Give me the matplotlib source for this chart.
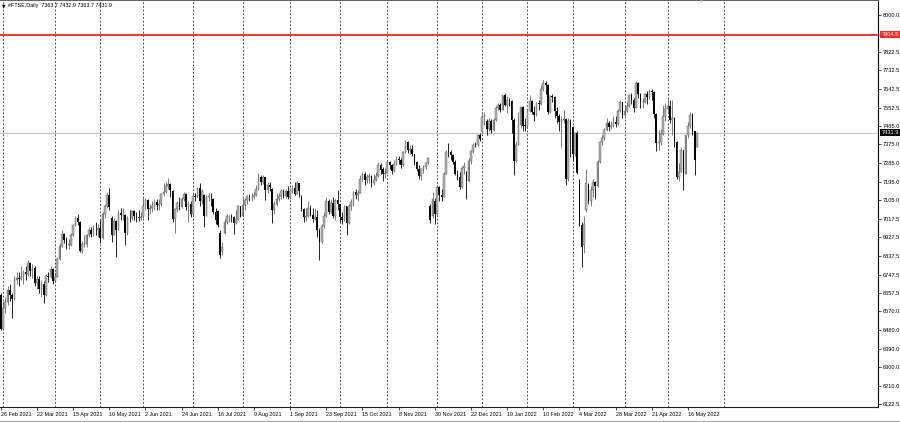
import numpy as np
import matplotlib.pyplot as plt
from matplotlib.lines import Line2D

plt.rcParams['font.family'] = ['Liberation Sans', 'DejaVu Sans']

# --- FTSE daily candles, 26 Feb 2021 .. 20 May 2022 (one row per month) ---
opens = [
    6651,
    6483, 6588, 6614, 6675, 6651, 6631, 6719, 6730, 6725, 6737, 6761, 6750, 6804, 6763, 6779, 6709, 6726, 6680, 6700, 6650, 6741, 6737, 6772,
    6714, 6737, 6823, 6885, 6942, 6916, 6890, 6890, 6940, 6984, 7020, 7000, 6860, 6896, 6896, 6938, 6963, 6945, 6964, 6961,
    6970, 6923, 7039, 7077, 7130, 7020, 6940, 7005, 6963, 7044, 7033, 7035, 6950, 7020, 7018, 7052, 7030, 7027, 7020,
    7023, 7080, 7108, 7064, 7069, 7077, 7095, 7081, 7088, 7134, 7147, 7172, 7185, 7150, 7017, 7062, 7090, 7074, 7110, 7136, 7072, 7088,
    7037, 7125, 7123, 7165, 7101, 7130, 7031, 7122, 7125, 7110, 7050, 7055, 6950, 6860, 6950, 6999, 7028, 7028, 7026, 6996, 7017, 7078,
    7032, 7081, 7106, 7124, 7120, 7123, 7133, 7161, 7220, 7193, 7219, 7154, 7181, 7160, 7059, 7088, 7110, 7126, 7150, 7125, 7148,
    7120, 7150, 7164, 7138, 7187, 7125, 7065, 7024, 7029, 7068, 7034, 7016, 7027, 6964, 6903, 6981, 7030, 7100, 7051, 7090, 7028, 7108,
    7086, 7027, 7011, 7077, 6996, 7078, 7096, 7147, 7130, 7142, 7208, 7234, 7204, 7218, 7224, 7190, 7205, 7223, 7278, 7255, 7230,
    7238, 7288, 7275, 7249, 7280, 7304, 7300, 7275, 7340, 7385, 7348, 7352, 7327, 7292, 7256, 7224, 7256, 7267, 7287, 7080, 7030, 7100,
    7040, 7168, 7129, 7122, 7233, 7340, 7338, 7322, 7292, 7231, 7219, 7171, 7261, 7240, 7198, 7297, 7341, 7373, 7372, 7421,
    7434, 7505, 7490, 7450, 7486, 7445, 7492, 7552, 7563, 7543, 7612, 7564, 7590, 7585, 7494, 7297, 7372, 7470, 7555, 7466,
    7464, 7535, 7584, 7529, 7516, 7573, 7568, 7644, 7672, 7661, 7531, 7609, 7604, 7537, 7514, 7485, 7494, 7499, 7207, 7490,
    7459, 7330, 7429, 7203, 6987, 6890, 7060, 7180, 7100, 7156, 7194, 7176, 7292, 7386, 7405, 7443, 7477, 7461, 7468, 7483, 7474, 7538, 7579,
    7516, 7538, 7559, 7614, 7588, 7552, 7670, 7619, 7577, 7581, 7616, 7601, 7630, 7628, 7522, 7381, 7386, 7426, 7510,
    7545, 7562, 7494, 7503, 7388, 7216, 7244, 7348, 7233, 7418, 7465, 7519, 7438, 7363.7,
]
highs = [
    6660,
    6620, 6640, 6690, 6700, 6660, 6740, 6760, 6760, 6790, 6770, 6790, 6820, 6810, 6800, 6790, 6740, 6740, 6720, 6715, 6750, 6760, 6790, 6780,
    6760, 6830, 6900, 6960, 6950, 6930, 6920, 6950, 6990, 7030, 7040, 7005, 6910, 6940, 6945, 6975, 6975, 6985, 7000, 6990,
    7010, 7050, 7090, 7145, 7165, 7030, 7020, 7010, 7060, 7070, 7068, 7040, 7030, 7060, 7060, 7060, 7050, 7060, 7050,
    7115, 7115, 7110, 7090, 7100, 7110, 7110, 7110, 7140, 7190, 7195, 7212, 7190, 7155, 7070, 7100, 7120, 7120, 7145, 7140, 7100, 7100,
    7145, 7140, 7170, 7190, 7160, 7135, 7130, 7140, 7140, 7115, 7070, 7060, 6960, 6905, 7015, 7040, 7035, 7040, 7030, 7060, 7085, 7080,
    7116, 7115, 7130, 7135, 7140, 7150, 7180, 7236, 7225, 7225, 7220, 7195, 7193, 7165, 7100, 7140, 7140, 7160, 7160, 7160, 7175,
    7165, 7180, 7195, 7200, 7190, 7130, 7070, 7068, 7100, 7085, 7068, 7068, 7058, 6970, 6990, 7050, 7121, 7110, 7111, 7121, 7110, 7155,
    7090, 7050, 7085, 7080, 7090, 7110, 7150, 7160, 7155, 7226, 7242, 7240, 7230, 7235, 7226, 7230, 7240, 7290, 7285, 7265, 7260,
    7300, 7295, 7280, 7300, 7320, 7320, 7310, 7345, 7395, 7390, 7370, 7370, 7330, 7295, 7276, 7262, 7278, 7292, 7315, 7090, 7145, 7115,
    7180, 7175, 7160, 7240, 7350, 7382, 7350, 7330, 7300, 7250, 7240, 7270, 7290, 7245, 7310, 7350, 7380, 7385, 7425, 7430,
    7526, 7530, 7495, 7500, 7495, 7500, 7560, 7575, 7575, 7615, 7625, 7610, 7600, 7590, 7500, 7390, 7530, 7560, 7560, 7500,
    7540, 7612, 7590, 7560, 7580, 7590, 7660, 7687, 7680, 7665, 7615, 7620, 7610, 7555, 7520, 7510, 7540, 7500, 7500, 7495,
    7465, 7435, 7440, 7210, 7000, 7030, 7255, 7190, 7175, 7210, 7200, 7300, 7390, 7420, 7455, 7500, 7490, 7490, 7510, 7510, 7545, 7590, 7580,
    7560, 7580, 7620, 7625, 7600, 7680, 7675, 7625, 7600, 7625, 7630, 7640, 7640, 7630, 7525, 7444, 7450, 7565, 7575,
    7600, 7590, 7590, 7505, 7390, 7285, 7360, 7350, 7420, 7483, 7530, 7525, 7440, 7432.9,
]
lows = [
    6480,
    6480, 6560, 6600, 6620, 6540, 6625, 6700, 6690, 6720, 6700, 6720, 6740, 6740, 6730, 6690, 6680, 6660, 6640, 6610, 6645, 6710, 6730, 6700,
    6710, 6735, 6820, 6880, 6900, 6870, 6870, 6885, 6935, 6980, 6985, 6855, 6850, 6880, 6880, 6930, 6930, 6935, 6940, 6930,
    6900, 6920, 7020, 7070, 7060, 6905, 6940, 6830, 6960, 7010, 7010, 6890, 6940, 7000, 7010, 7010, 7000, 7005, 7010,
    7020, 7060, 7010, 7040, 7050, 7060, 7060, 7060, 7080, 7125, 7140, 7160, 7120, 7000, 6948, 7050, 7060, 7070, 7100, 7060, 7000, 7025,
    7035, 7100, 7120, 7080, 7090, 6975, 7030, 7100, 7080, 7040, 6990, 6975, 6827, 6840, 6945, 6990, 7000, 7000, 6945, 6990, 7010, 7025,
    7030, 7060, 7090, 7100, 7100, 7110, 7125, 7155, 7180, 7185, 7106, 7140, 7150, 6995, 7040, 7080, 7100, 7110, 7115, 7115, 7110,
    7110, 7140, 7130, 7135, 7120, 7055, 7000, 7005, 7025, 7030, 7000, 7010, 6930, 6820, 6900, 6970, 7025, 7040, 7045, 7020, 7010, 7060,
    7000, 6990, 7005, 6940, 6990, 7060, 7080, 7110, 7100, 7140, 7200, 7180, 7190, 7190, 7170, 7180, 7200, 7220, 7230, 7200, 7215,
    7235, 7255, 7230, 7240, 7275, 7280, 7260, 7270, 7335, 7335, 7330, 7320, 7276, 7245, 7210, 7204, 7236, 7255, 7280, 6995, 7020, 6990,
    7035, 7100, 7100, 7120, 7230, 7315, 7300, 7280, 7225, 7205, 7160, 7165, 7230, 7110, 7195, 7280, 7335, 7360, 7365, 7390,
    7430, 7470, 7420, 7440, 7430, 7440, 7490, 7540, 7530, 7540, 7560, 7526, 7560, 7430, 7227, 7290, 7370, 7460, 7440, 7440,
    7460, 7530, 7520, 7490, 7510, 7540, 7565, 7630, 7620, 7520, 7526, 7580, 7500, 7480, 7440, 7362, 7480, 7179, 7200, 7315,
    7300, 7320, 7230, 6980, 6784, 6850, 7050, 7090, 7080, 7120, 7110, 7170, 7285, 7370, 7396, 7440, 7440, 7450, 7460, 7460, 7470, 7530, 7500,
    7500, 7530, 7555, 7570, 7530, 7550, 7600, 7550, 7550, 7575, 7570, 7595, 7590, 7500, 7345, 7350, 7370, 7420, 7490,
    7530, 7480, 7420, 7360, 7210, 7200, 7240, 7155, 7230, 7405, 7455, 7420, 7227, 7363.7,
]
closes = [
    6483,
    6588, 6614, 6675, 6651, 6631, 6719, 6730, 6725, 6737, 6761, 6750, 6804, 6763, 6779, 6709, 6726, 6680, 6700, 6650, 6741, 6737, 6772, 6714,
    6737, 6823, 6885, 6942, 6916, 6890, 6890, 6940, 6984, 7020, 7000, 6860, 6896, 6896, 6938, 6963, 6945, 6964, 6961, 6970,
    6923, 7039, 7077, 7130, 7075, 6940, 7005, 6963, 7044, 7033, 7035, 6950, 7020, 7018, 7052, 7030, 7027, 7020, 7023,
    7080, 7108, 7064, 7069, 7077, 7095, 7081, 7088, 7134, 7147, 7172, 7185, 7153, 7017, 7062, 7090, 7074, 7110, 7136, 7072, 7088, 7037,
    7125, 7123, 7165, 7101, 7151, 7031, 7122, 7125, 7124, 7050, 7012, 6985, 6844, 6882, 6999, 7028, 7028, 7026, 6996, 7017, 7078, 7032,
    7081, 7106, 7124, 7120, 7123, 7133, 7161, 7220, 7193, 7219, 7154, 7181, 7170, 7059, 7088, 7110, 7126, 7150, 7125, 7148, 7120,
    7150, 7164, 7138, 7187, 7149, 7065, 7024, 7029, 7068, 7034, 7016, 7027, 6964, 6903, 6981, 7030, 7100, 7051, 7090, 7028, 7108, 7086,
    7027, 7011, 7077, 6996, 7078, 7096, 7147, 7130, 7142, 7208, 7234, 7204, 7218, 7224, 7190, 7205, 7223, 7278, 7253, 7230, 7238,
    7288, 7275, 7249, 7280, 7304, 7300, 7275, 7340, 7385, 7348, 7352, 7327, 7292, 7256, 7224, 7256, 7267, 7287, 7311, 7010, 7110, 7040,
    7168, 7129, 7122, 7233, 7340, 7338, 7322, 7292, 7231, 7219, 7171, 7261, 7270, 7198, 7297, 7341, 7373, 7372, 7421, 7403,
    7505, 7517, 7450, 7486, 7445, 7492, 7552, 7563, 7543, 7612, 7564, 7590, 7585, 7494, 7297, 7372, 7470, 7555, 7466, 7464,
    7535, 7584, 7529, 7516, 7573, 7568, 7644, 7672, 7661, 7531, 7609, 7604, 7537, 7514, 7485, 7494, 7499, 7207, 7490, 7459,
    7330, 7429, 7239, 6987, 6880, 6990, 7191, 7100, 7156, 7194, 7176, 7292, 7386, 7405, 7443, 7477, 7461, 7468, 7483, 7474, 7538, 7579, 7516,
    7538, 7559, 7614, 7588, 7552, 7670, 7619, 7577, 7581, 7616, 7601, 7630, 7628, 7522, 7381, 7386, 7426, 7510, 7545,
    7562, 7494, 7503, 7388, 7216, 7244, 7348, 7233, 7418, 7465, 7519, 7438, 7302, 7431.9,
]

# bottom axis labels (every 16th bar) and month separators (bar index of first bar in month)
date_labels = ['26 Feb 2021', '22 Mar 2021', '15 Apr 2021', '10 May 2021', '2 Jun 2021',
               '24 Jun 2021', '16 Jul 2021', '9 Aug 2021', '1 Sep 2021', '23 Sep 2021',
               '15 Oct 2021', '8 Nov 2021', '30 Nov 2021', '22 Dec 2021', '19 Jan 2022',
               '10 Feb 2022', '4 Mar 2022', '28 Mar 2022', '21 Apr 2022', '16 May 2022']
label_step = 16
month_starts = [1, 24, 44, 63, 85, 107, 128, 150, 171, 193, 213, 233, 253, 276, 295, 320]

price_ticks = [8000.0, 7822.5, 7732.5, 7642.5, 7552.5, 7465.0, 7375.0, 7285.0, 7195.0,
               7105.0, 7017.5, 6927.5, 6837.5, 6747.5, 6657.5, 6570.0, 6480.0, 6390.0,
               6300.0, 6210.0, 6122.5]
level_line = 7904.5
bid_price = 7431.9
header = '#FTSE,Daily  7363.7 7432.9 7363.7 7431.9'

o = np.array(opens, dtype=float)
h = np.array(highs, dtype=float)
l = np.array(lows, dtype=float)
c = np.array(closes, dtype=float)
assert len(o) == len(h) == len(l) == len(c)
x = np.arange(len(c))
up = c >= o

W, H = 900, 422
fig = plt.figure(figsize=(W / 100, H / 100), dpi=100)
fig.patch.set_facecolor('white')
ax = fig.add_axes([0, 15 / H, 878 / W, 407 / H])
ax.set_xlim(-0.35, 388.1)
ax.set_ylim(6109, 8071)

# month separators
for m in month_starts:
    ax.axvline(m, color='#303030', lw=0.6, ls=(0, (2.2, 2.2)), zorder=1)

ax.axhline(bid_price, color='#c4c4c4', lw=0.8, zorder=1)
ax.axhline(level_line, color='#ff3030', lw=1.4, zorder=4)

# candles: bull = light body with dark outline, bear = black
ax.vlines(x[up], l[up], h[up], color='#666666', lw=0.6, zorder=2)
ax.vlines(x[~up], l[~up], h[~up], color='black', lw=0.6, zorder=2)
body_lo = np.minimum(o, c)
body_h = np.maximum(np.abs(c - o), 3)
ax.bar(x[up], body_h[up], bottom=body_lo[up], width=0.72, color='#b2b2b2',
       edgecolor='#5a5a5a', linewidth=0.3, zorder=3)
ax.bar(x[~up], body_h[~up], bottom=body_lo[~up], width=0.72, color='black',
       linewidth=0, zorder=3)

# axes styling
ax.spines['left'].set_visible(False)
ax.spines['top'].set_color('#606060')
ax.spines['top'].set_linewidth(1.4)
ax.spines['right'].set_color('black')
ax.spines['right'].set_linewidth(0.8)
ax.spines['bottom'].set_color('#202020')
ax.spines['bottom'].set_linewidth(0.8)

ax.yaxis.tick_right()
ax.set_yticks(price_ticks)
ax.set_yticklabels([f'{v:.1f}' for v in price_ticks])
ax.tick_params(axis='y', labelsize=4.1, length=2.5, width=0.5, pad=1.2, colors='black')

label_bars = list(range(0, label_step * len(date_labels), label_step))
ax.set_xticks(label_bars)
ax.set_xticklabels(date_labels, ha='left')
ax.tick_params(axis='x', labelsize=3.9, length=2.5, width=0.5, pad=1.2, colors='black')

# price tags on the right scale
ytr = ax.get_yaxis_transform()
ax.text(1.004, level_line, f'{level_line:.1f}', transform=ytr, fontsize=4.1, color='white',
        va='center', ha='left', zorder=6, clip_on=False,
        bbox=dict(boxstyle='square,pad=0.25', fc='#ff2a2a', ec='none'))
ax.text(1.004, bid_price, f'{bid_price:.1f}', transform=ytr, fontsize=4.1, color='white',
        va='center', ha='left', zorder=6, clip_on=False,
        bbox=dict(boxstyle='square,pad=0.25', fc='black', ec='none'))

# header
fig.text(2 / W, 1 - 5.5 / H, '\u25bc', fontsize=3.3, family='DejaVu Sans', va='center', ha='left')
fig.text(8 / W, 1 - 5.5 / H, header, fontsize=3.9, va='center', ha='left')

# chart shift marker and bottom window edge
fig.text(702 / W, 1 - 1.5 / H, '\u25bc', fontsize=3, family='DejaVu Sans', color='#a0a0a0',
         va='center', ha='center')
fig.add_artist(Line2D([0, 1], [1.5 / H, 1.5 / H], color='#a8a8a8', lw=0.8))

fig.savefig('out.png', dpi=100)
